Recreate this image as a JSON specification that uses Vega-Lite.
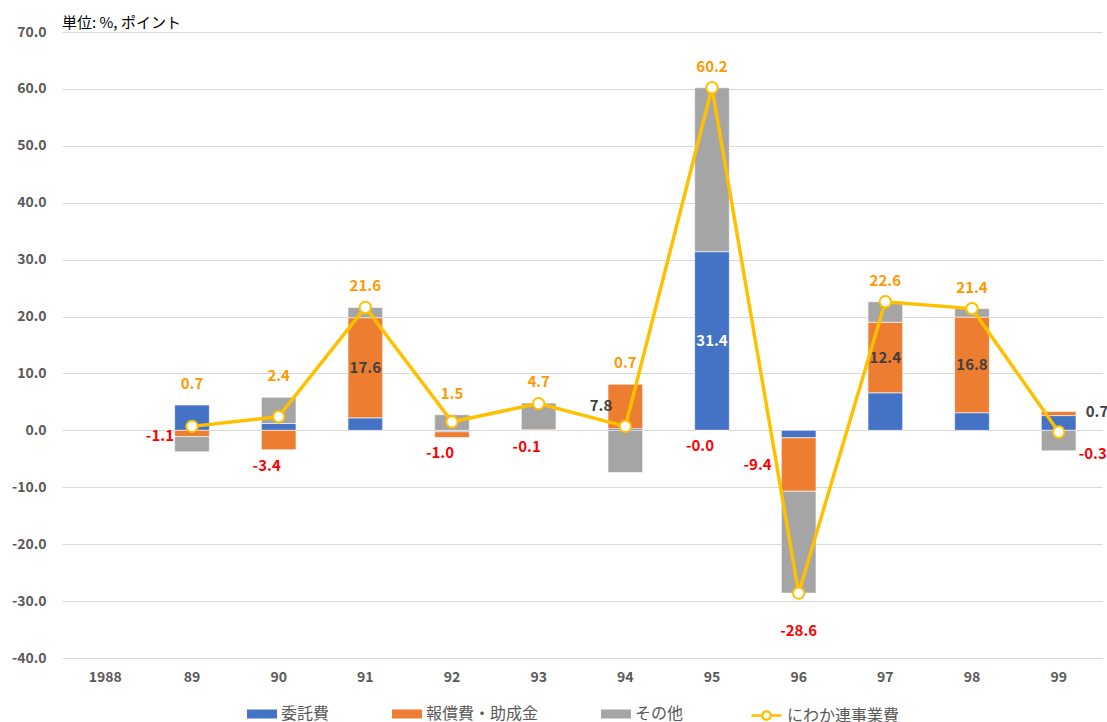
{
  "$schema": "https://vega.github.io/schema/vega-lite/v6.json",
  "autosize": {"type": "none"},
  "padding": {"left": 62, "top": 32, "right": 5, "bottom": 64},
  "width": 1040,
  "height": 626,
  "background": "white",
  "title": {"text": "単位: %, ポイント", "anchor": "start", "frame": "group", "offset": -6, "fontSize": 15, "fontWeight": "normal", "color": "#000000", "font": "Noto Sans CJK JP"},
  "config": {
    "view": {"stroke": null},
    "font": "Noto Sans CJK JP",
    "locale": {"number": {"decimal": ".", "thousands": ",", "grouping": [3], "currency": ["", ""], "minus": "-"}},
    "axis": {"labelFont": "Noto Sans CJK JP", "labelFontSize": 14, "labelFontWeight": "bold", "labelColor": "#595959", "domain": false, "ticks": false, "gridColor": "#D9D9D9", "gridWidth": 1},
    "axisX": {"grid": false, "labelPadding": 12, "labelAngle": 0},
    "axisY": {"grid": true, "labelPadding": 16, "tickCount": 11, "format": ".1f"},
    "legend": {"labelFont": "Noto Sans CJK JP", "labelFontSize": 16, "labelColor": "#595959", "labelLimit": 400, "padding": 0}
  },
  "datasets": {
    "bars": [
      {"year": "89", "series": "委託費", "value": 4.45},
      {"year": "89", "series": "報償費・助成金", "value": -1.1},
      {"year": "89", "series": "その他", "value": -2.65},
      {"year": "90", "series": "委託費", "value": 1.2},
      {"year": "90", "series": "報償費・助成金", "value": -3.4},
      {"year": "90", "series": "その他", "value": 4.6},
      {"year": "91", "series": "委託費", "value": 2.2},
      {"year": "91", "series": "報償費・助成金", "value": 17.6},
      {"year": "91", "series": "その他", "value": 1.8},
      {"year": "92", "series": "委託費", "value": -0.25},
      {"year": "92", "series": "報償費・助成金", "value": -1.0},
      {"year": "92", "series": "その他", "value": 2.75},
      {"year": "93", "series": "委託費", "value": 0.1},
      {"year": "93", "series": "報償費・助成金", "value": -0.1},
      {"year": "93", "series": "その他", "value": 4.7},
      {"year": "94", "series": "委託費", "value": 0.3},
      {"year": "94", "series": "報償費・助成金", "value": 7.8},
      {"year": "94", "series": "その他", "value": -7.4},
      {"year": "95", "series": "委託費", "value": 31.4},
      {"year": "95", "series": "報償費・助成金", "value": -0.02},
      {"year": "95", "series": "その他", "value": 28.8},
      {"year": "96", "series": "委託費", "value": -1.3},
      {"year": "96", "series": "報償費・助成金", "value": -9.4},
      {"year": "96", "series": "その他", "value": -17.9},
      {"year": "97", "series": "委託費", "value": 6.6},
      {"year": "97", "series": "報償費・助成金", "value": 12.4},
      {"year": "97", "series": "その他", "value": 3.6},
      {"year": "98", "series": "委託費", "value": 3.1},
      {"year": "98", "series": "報償費・助成金", "value": 16.8},
      {"year": "98", "series": "その他", "value": 1.5},
      {"year": "99", "series": "委託費", "value": 2.6},
      {"year": "99", "series": "報償費・助成金", "value": 0.7},
      {"year": "99", "series": "その他", "value": -3.6}
    ],
    "line": [
      {"year": "89", "total": 0.7},
      {"year": "90", "total": 2.4},
      {"year": "91", "total": 21.6},
      {"year": "92", "total": 1.5},
      {"year": "93", "total": 4.7},
      {"year": "94", "total": 0.7},
      {"year": "95", "total": 60.2},
      {"year": "96", "total": -28.6},
      {"year": "97", "total": 22.6},
      {"year": "98", "total": 21.4},
      {"year": "99", "total": -0.3}
    ]
  },
  "encoding": {
    "x": {
      "field": "year", "type": "nominal", "title": null,
      "scale": {"domain": ["1988", "89", "90", "91", "92", "93", "94", "95", "96", "97", "98", "99"], "paddingInner": 0.6, "paddingOuter": 0.3}
    }
  },
  "layer": [
    {
      "data": {"name": "bars"},
      "transform": [
        {"stack": "value", "groupby": ["year"], "sort": [{"field": "series", "order": "descending"}], "as": ["y0", "y1"], "offset": "zero"},
        {"calculate": "(datum.y0 + datum.y1) / 2", "as": "mid"},
        {"calculate": "min(datum.y0, datum.y1)", "as": "lo"},
        {"calculate": "max(datum.y0, datum.y1)", "as": "hi"},
        {"joinaggregate": [{"op": "min", "field": "lo", "as": "barMin"}, {"op": "max", "field": "hi", "as": "barMax"}], "groupby": ["year"]},
        {"lookup": "year", "from": {"data": {"name": "line"}, "key": "year", "fields": ["total"]}},
        {"calculate": "max(datum.total, datum.barMax)", "as": "topY"},
        {"calculate": "(datum.value < 0 ? '-' : '') + format(abs(datum.value), '.1f')", "as": "lbl"},
        {"calculate": "(datum.total < 0 ? '-' : '') + format(abs(datum.total), '.1f')", "as": "tlbl"}
      ],
      "layer": [
        {
          "mark": {"type": "bar", "stroke": "white", "strokeWidth": 0.6},
          "encoding": {
            "y": {"field": "y0", "type": "quantitative", "title": null, "scale": {"domain": [-40, 70], "nice": false}},
            "y2": {"field": "y1"},
            "color": {
              "field": "series", "type": "nominal",
              "scale": {"domain": ["委託費", "報償費・助成金", "その他"], "range": ["#4472C4", "#ED7D31", "#A5A5A5"]},
              "legend": {
                "title": null,
                "orient": "none",
                "direction": "horizontal",
                "legendX": 185,
                "legendY": 667,
                "columnPadding": 62,
                "symbolType": "M-1,-0.3H1V0.3H-1Z",
                "symbolSize": 900,
                "symbolStrokeWidth": 0,
                "labelOffset": 4
              }
            }
          }
        },
        {
          "transform": [{"filter": "datum.series === '委託費' && datum.value > 20"}],
          "mark": {"type": "text", "fontSize": 15, "fontWeight": "bold", "color": "#FFFFFF"},
          "encoding": {
            "y": {"field": "mid", "type": "quantitative", "scale": {"domain": [-40, 70], "nice": false}},
            "text": {"field": "lbl"}
          }
        },
        {
          "transform": [{"filter": "datum.series === '報償費・助成金' && datum.value >= 10"}],
          "mark": {"type": "text", "fontSize": 15, "fontWeight": "bold", "color": "#404040"},
          "encoding": {
            "y": {"field": "mid", "type": "quantitative", "scale": {"domain": [-40, 70], "nice": false}},
            "text": {"field": "lbl"}
          }
        },
        {
          "transform": [{"filter": "datum.series === '報償費・助成金' && datum.value >= 5 && datum.value < 10"}],
          "mark": {"type": "text", "fontSize": 15, "fontWeight": "bold", "color": "#404040", "align": "right", "dx": -13},
          "encoding": {
            "y": {"field": "mid", "type": "quantitative", "scale": {"domain": [-40, 70], "nice": false}},
            "text": {"field": "lbl"}
          }
        },
        {
          "transform": [{"filter": "datum.series === '報償費・助成金' && datum.value <= -5"}],
          "mark": {"type": "text", "fontSize": 15, "fontWeight": "bold", "color": "#FF0000", "align": "right", "dx": -27},
          "encoding": {
            "y": {"field": "mid", "type": "quantitative", "scale": {"domain": [-40, 70], "nice": false}},
            "text": {"field": "lbl"}
          }
        },
        {
          "transform": [{"filter": "datum.series === '報償費・助成金' && datum.value < 0 && datum.value > -5 && datum.barMin < datum.lo - 0.5"}],
          "mark": {"type": "text", "fontSize": 15, "fontWeight": "bold", "color": "#FF0000", "align": "right", "dx": -18, "dy": 3},
          "encoding": {
            "y": {"field": "mid", "type": "quantitative", "scale": {"domain": [-40, 70], "nice": false}},
            "text": {"field": "lbl"}
          }
        },
        {
          "transform": [{"filter": "datum.series === '報償費・助成金' && datum.value < 0 && datum.value > -5 && datum.barMin >= datum.lo - 0.5"}],
          "mark": {"type": "text", "fontSize": 15, "fontWeight": "bold", "color": "#FF0000", "dy": 16, "dx": -12},
          "encoding": {
            "y": {"field": "barMin", "type": "quantitative", "scale": {"domain": [-40, 70], "nice": false}},
            "text": {"field": "lbl"}
          }
        },
        {
          "transform": [{"filter": "datum.series === '報償費・助成金' && datum.value > 0 && datum.value < 5"}],
          "mark": {"type": "text", "fontSize": 15, "fontWeight": "bold", "color": "#404040", "align": "left", "dx": 27},
          "encoding": {
            "y": {"field": "hi", "type": "quantitative", "scale": {"domain": [-40, 70], "nice": false}},
            "text": {"field": "lbl"}
          }
        },
        {
          "transform": [{"filter": "datum.series === '委託費' && datum.total >= 0"}],
          "mark": {"type": "text", "fontSize": 15, "fontWeight": "bold", "color": "#FF9900", "dy": -21},
          "encoding": {
            "y": {"field": "topY", "type": "quantitative", "scale": {"domain": [-40, 70], "nice": false}},
            "text": {"field": "tlbl"}
          }
        },
        {
          "transform": [{"filter": "datum.series === '委託費' && datum.total <= -5"}],
          "mark": {"type": "text", "fontSize": 15, "fontWeight": "bold", "color": "#FF0000", "dy": 38},
          "encoding": {
            "y": {"field": "total", "type": "quantitative", "scale": {"domain": [-40, 70], "nice": false}},
            "text": {"field": "tlbl"}
          }
        },
        {
          "transform": [{"filter": "datum.series === '委託費' && datum.total < 0 && datum.total > -5"}],
          "mark": {"type": "text", "fontSize": 15, "fontWeight": "bold", "color": "#FF0000", "align": "left", "dx": 20, "dy": 22},
          "encoding": {
            "y": {"field": "total", "type": "quantitative", "scale": {"domain": [-40, 70], "nice": false}},
            "text": {"field": "tlbl"}
          }
        }
      ]
    },
    {
      "data": {"name": "line"},
      "layer": [
        {
          "mark": {"type": "line", "strokeWidth": 3.5},
          "encoding": {
            "y": {"field": "total", "type": "quantitative", "scale": {"domain": [-40, 70], "nice": false}},
            "stroke": {
              "datum": "にわか連事業費", "type": "nominal",
              "scale": {"domain": ["にわか連事業費"], "range": ["#FFC000"]},
              "legend": {
                "title": null,
                "orient": "none",
                "direction": "horizontal",
                "legendX": 688,
                "legendY": 667,
                "symbolType": "M-1,0H-0.28M0.28,0H1M0.28,0A0.28,0.28 0 1,1 -0.28,0A0.28,0.28 0 1,1 0.28,0",
                "symbolSize": 900,
                "symbolStrokeWidth": 2.5,
                "labelOffset": 4
              }
            }
          }
        },
        {
          "mark": {"type": "point", "filled": true, "fill": "#FFFFFF", "stroke": "#FFC000", "strokeWidth": 2, "size": 130, "opacity": 1},
          "encoding": {
            "y": {"field": "total", "type": "quantitative", "scale": {"domain": [-40, 70], "nice": false}}
          }
        }
      ]
    }
  ]
}
